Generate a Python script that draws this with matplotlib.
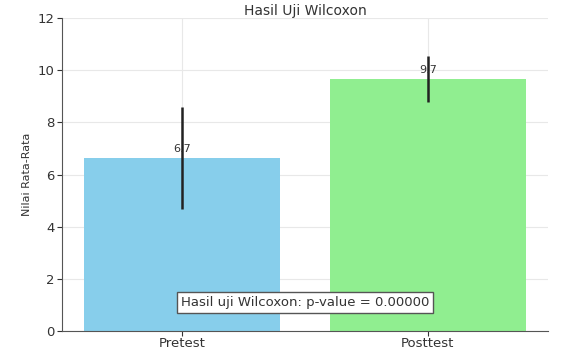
import matplotlib
matplotlib.use("Agg")
import matplotlib.pyplot as plt

# Rata-rata nilai dan simpangan baku
groups = ["Pretest", "Posttest"]
means = [6.63, 9.66]
stds = [1.95, 0.87]
mean_labels = ["6.7", "9.7"]
p_value = 0.0
colors = ["skyblue", "lightgreen"]

fig = plt.figure(figsize=(5.68, 3.53), dpi=100)
ax = fig.add_axes([0.109, 0.062, 0.856, 0.887])

ax.bar(groups, means, yerr=stds, color=colors, width=0.8,
       error_kw=dict(ecolor="#222222", elinewidth=1.8, capsize=0))

for i, (m, lab) in enumerate(zip(means, mean_labels)):
    ax.text(i, m + 0.15, lab, ha="center", va="bottom", fontsize=8, color="#333333")

ax.set_ylim(0, 12)
ax.set_yticks(range(0, 13, 2))
ax.set_ylabel("Nilai Rata-Rata", fontsize=8, color="#333333")
ax.set_title("Hasil Uji Wilcoxon", fontsize=10, pad=1, color="#333333")
ax.tick_params(axis="y", labelsize=9.5, colors="#333333", pad=2)
ax.tick_params(axis="x", labelsize=9.5, colors="#333333", pad=1)
ax.grid(True, color="#e8e8e8", linewidth=0.8)
ax.set_axisbelow(True)
for s in ["top", "right"]:
    ax.spines[s].set_visible(False)
for s in ["left", "bottom"]:
    ax.spines[s].set_color("#555555")

ax.text(0.5, 0.09, f"Hasil uji Wilcoxon: p-value = {p_value:.5f}",
        transform=ax.transAxes, ha="center", va="center", fontsize=9.5,
        color="#333333",
        bbox=dict(boxstyle="square,pad=0.3", facecolor="white", edgecolor="#555555", linewidth=1))

fig.savefig("out.png", dpi=100)
